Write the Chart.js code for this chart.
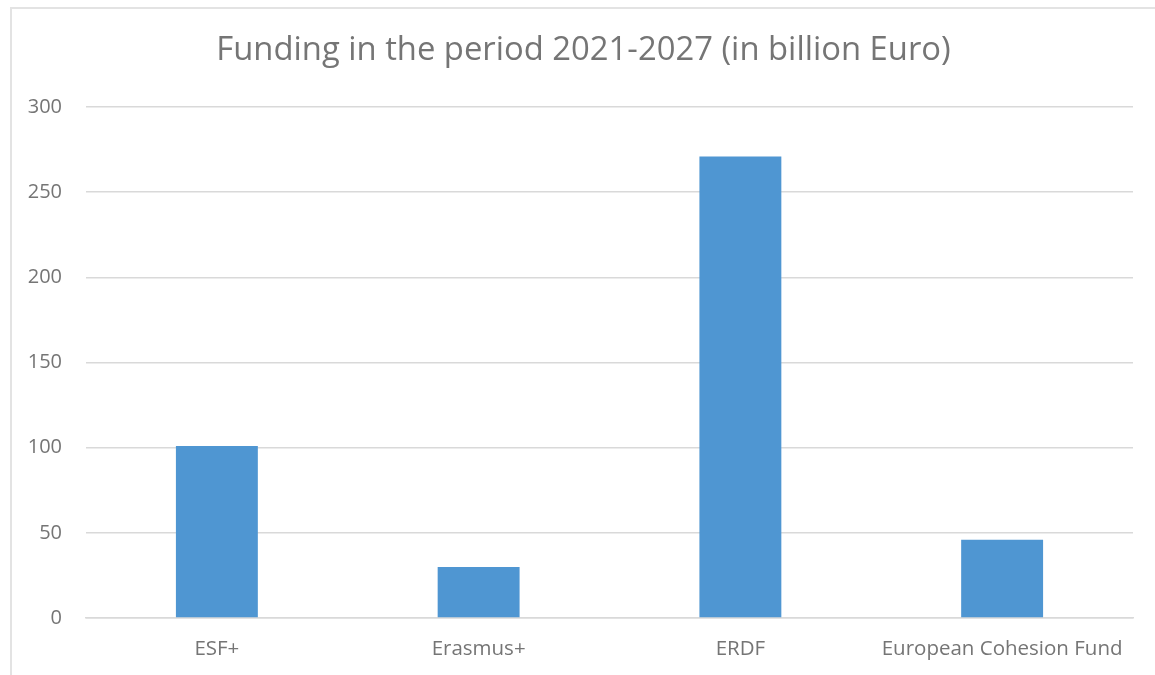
<!DOCTYPE html>
<html>
<head>
<meta charset="utf-8">
<script src="https://cdn.jsdelivr.net/npm/chart.js@4"></script>
<style>
  html, body { margin: 0; padding: 0; background: #fff; overflow: hidden; }
  #frame {
    position: absolute; left: 10px; top: 7px;
    width: 1160px; height: 680px;
    border-left: 2px solid #e3e3e3; border-top: 2px solid #e3e3e3;
  }
  #wrap { position: absolute; left: 0; top: 0; width: 1143px; height: 666px; }
</style>
</head>
<body>
<div id="frame"><div id="wrap"><canvas id="fundingChart"></canvas></div></div>
<script>
const categories = ["ESF+", "Erasmus+", "ERDF", "European Cohesion Fund"];
const fundingValues = [101, 30, 271, 46];
const yTicks = [0, 50, 100, 150, 200, 250, 300];

const textGrey = "#757575";
const gridGrey = "#d9d9d9";
const barBlue = "#4f96d2";

const ctx = document.getElementById("fundingChart").getContext("2d");

new Chart(ctx, {
  type: "bar",
  data: {
    labels: categories,
    datasets: [
      {
        label: "Funding",
        data: fundingValues,
        backgroundColor: barBlue,
        categoryPercentage: 1,
        barPercentage: 0.313,
      },
    ],
  },
  options: {
    responsive: true,
    maintainAspectRatio: false,
    animation: false,
    layout: { padding: 0 },
    plugins: {
      legend: { display: false },
      tooltip: { enabled: false },
      title: {
        display: true,
        text: "Funding in the period 2021-2027 (in billion Euro)",
        color: textGrey,
        font: { family: "Open Sans", size: 32.8, weight: "normal" },
        padding: { top: 21.5, bottom: 37.2 },
      },
    },
    scales: {
      x: {
        grid: { display: false, drawTicks: false },
        border: { color: gridGrey, width: 1.5 },
        ticks: {
          color: textGrey,
          font: { family: "Open Sans", size: 20.5 },
          padding: 18.5,
          maxRotation: 0,
          autoSkip: false,
        },
        afterFit: (scale) => {
          scale.height = 57;
        },
      },
      y: {
        min: 0,
        max: 300,
        afterBuildTicks: (scale) => {
          scale.ticks = yTicks.map((v) => ({ value: v }));
        },
        grid: { color: gridGrey, lineWidth: 1.5, drawTicks: false },
        border: { display: false },
        ticks: {
          color: textGrey,
          font: { family: "Open Sans", size: 20 },
          padding: 24,
        },
        afterFit: (scale) => {
          scale.width = 74;
        },
      },
      // empty right axis, only keeps the plot clear of the right edge
      yRight: {
        position: "right",
        grid: { display: false, drawTicks: false },
        border: { display: false },
        ticks: { display: false },
        afterFit: (scale) => {
          scale.width = 22;
        },
      },
    },
  },
});
</script>
</body>
</html>
